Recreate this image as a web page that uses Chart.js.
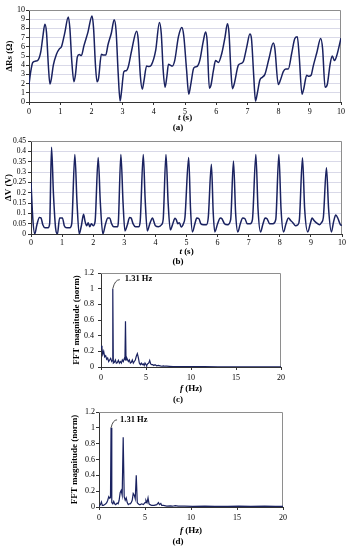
<!DOCTYPE html>
<html>
<head>
<meta charset="utf-8">
<script src="https://cdn.jsdelivr.net/npm/chart.js@4.4.1/dist/chart.umd.min.js"></script>
<style>
  body { margin: 0; background: #fff; }
  .box { position: absolute; left: 0; width: 355px; }
</style>
</head>
<body>
<div class="box" style="top:0;height:135px"><canvas id="chartA"></canvas></div>
<div class="box" style="top:130px;height:140px"><canvas id="chartB"></canvas></div>
<div class="box" style="top:262px;height:150px"><canvas id="chartC"></canvas></div>
<div class="box" style="top:400px;height:150px"><canvas id="chartD"></canvas></div>
<script>
// (a) resistance change vs time
const timeA = [
  0, 0.05, 0.12, 0.22, 0.3, 0.38, 0.44, 0.51, 0.56, 0.62,
  0.67, 0.72, 0.78, 0.88, 0.98, 1.04, 1.14, 1.26, 1.31, 1.37,
  1.44, 1.49, 1.55, 1.61, 1.68, 1.76, 1.89, 2.02, 2.07, 2.13,
  2.18, 2.23, 2.32, 2.38, 2.46, 2.53, 2.64, 2.73, 2.79, 2.86,
  2.92, 2.97, 3.04, 3.12, 3.18, 3.29, 3.45, 3.50, 3.57,
  3.63, 3.68, 3.77, 3.85, 3.92, 4.06, 4.18, 4.24, 4.30,
  4.36, 4.42, 4.47, 4.53, 4.59, 4.67, 4.79, 4.90, 4.96, 5.05,
  5.12, 5.18, 5.27, 5.32, 5.40, 5.48, 5.58, 5.66, 5.71,
  5.78, 5.83, 5.91, 5.98, 6.07, 6.18, 6.28, 6.36, 6.41, 6.47,
  6.52, 6.58, 6.71, 6.80, 6.87, 6.98, 7.08, 7.13, 7.20,
  7.26, 7.32, 7.40, 7.48, 7.56, 7.69, 7.83, 7.88,
  7.99, 8.05, 8.15, 8.23, 8.31, 8.42, 8.52, 8.60, 8.66,
  8.75, 8.81, 8.90, 8.97, 9.04, 9.11, 9.22, 9.35, 9.41,
  9.49, 9.56, 9.65, 9.72, 9.79, 9.86, 10.0
]
const resA = [
  1.9, 3.2, 4.3, 4.45, 4.6, 5.5, 7.0, 8.45, 7.6, 4.0,
  1.95, 2.6, 4.0, 5.2, 5.8, 6.0, 7.4, 9.25, 8.0, 4.5,
  2.2, 3.0, 4.9, 5.15, 5.05, 6.1, 7.6, 9.35, 8.0, 4.0,
  2.2, 2.6, 5.2, 5.1, 5.1, 6.2, 7.5, 8.95, 7.8, 3.0,
  0.1, 1.3, 3.3, 3.4, 3.8, 5.6, 7.7, 6.8, 2.8,
  1.4, 2.2, 3.9, 3.85, 4.0, 5.6, 8.65, 7.4, 3.5,
  1.6, 2.8, 4.1, 4.0, 3.9, 4.5, 7.1, 8.1, 7.2, 3.5,
  0.85, 1.8, 3.6, 3.8, 3.9, 4.6, 6.5, 7.6, 6.6,
  1.5, 1.8, 3.4, 4.5, 4.3, 5.3, 7.0, 8.5, 7.5, 3.5,
  1.45, 2.0, 4.0, 4.2, 4.4, 6.0, 7.4, 6.9, 3.0,
  0.1, 1.0, 2.4, 2.7, 3.0, 4.7, 6.4, 5.8,
  1.9, 2.3, 3.3, 3.6, 3.6, 5.3, 6.9, 7.1, 5.0,
  0.85, 1.5, 2.9, 2.8, 2.9, 3.9, 5.3, 6.9, 5.8,
  1.6, 1.9, 4.1, 5.0, 4.5, 5.0, 6.95
]

// (b) voltage change vs time
const timeB = [
  0, 0.06, 0.12, 0.19, 0.27, 0.32, 0.38, 0.45, 0.55, 0.60,
  0.66, 0.72, 0.79, 0.85, 0.92, 1.01, 1.07, 1.15, 1.25, 1.31,
  1.41, 1.48, 1.55, 1.62, 1.69, 1.74, 1.79, 1.84, 1.89, 1.94, 2.0, 2.06,
  2.16, 2.23, 2.31, 2.39, 2.47, 2.53, 2.59, 2.66, 2.78, 2.81,
  2.89, 2.96, 3.02, 3.10, 3.17, 3.22, 3.28, 3.36, 3.46, 3.51,
  3.61, 3.67, 3.74, 3.82, 3.91, 3.95, 4.0, 4.1, 4.2, 4.25,
  4.34, 4.41, 4.48, 4.56, 4.63, 4.67, 4.72, 4.77, 4.83, 4.9, 4.95,
  5.07, 5.13, 5.19, 5.27, 5.33, 5.40, 5.46, 5.55, 5.64, 5.70,
  5.80, 5.86, 5.91, 6.0, 6.09, 6.14, 6.22, 6.32, 6.42,
  6.51, 6.58, 6.65, 6.73, 6.81, 6.88, 6.95, 7.05, 7.12,
  7.23, 7.30, 7.38, 7.46, 7.53, 7.59, 7.67, 7.78, 7.87,
  7.97, 8.04, 8.12, 8.20, 8.28, 8.35, 8.42, 8.50, 8.58, 8.63,
  8.73, 8.80, 8.90, 8.98, 9.04, 9.10, 9.17, 9.28, 9.34, 9.40,
  9.50, 9.57, 9.66, 9.73, 9.80, 9.87, 9.95, 10.0
]
const voltB = [
  0.25, 0.07, 0.0, 0.045, 0.08, 0.078, 0.045, 0.03, 0.03, 0.05,
  0.42, 0.2, 0.03, 0.0, 0.078, 0.078, 0.04, 0.03, 0.03, 0.05,
  0.385, 0.15, 0.0, 0.04, 0.095, 0.06, 0.04, 0.055, 0.035, 0.05, 0.04, 0.06,
  0.37, 0.15, 0.0, 0.045, 0.078, 0.078, 0.05, 0.035, 0.035, 0.06,
  0.385, 0.15, 0.015, 0.045, 0.08, 0.077, 0.05, 0.035, 0.035, 0.06,
  0.385, 0.17, 0.015, 0.05, 0.078, 0.06, 0.04, 0.035, 0.045, 0.07,
  0.385, 0.15, 0.02, 0.05, 0.076, 0.07, 0.05, 0.055, 0.034, 0.05, 0.08,
  0.37, 0.12, 0.01, 0.05, 0.077, 0.074, 0.05, 0.045, 0.045, 0.08,
  0.337, 0.1, 0.01, 0.05, 0.077, 0.074, 0.05, 0.045, 0.07,
  0.353, 0.1, 0.01, 0.05, 0.077, 0.074, 0.05, 0.05, 0.07,
  0.385, 0.12, 0.01, 0.05, 0.077, 0.074, 0.05, 0.05, 0.07,
  0.385, 0.12, 0.01, 0.05, 0.077, 0.065, 0.055, 0.04, 0.045, 0.07,
  0.369, 0.12, 0.01, 0.05, 0.077, 0.065, 0.055, 0.045, 0.055, 0.08,
  0.321, 0.12, 0.01, 0.06, 0.092, 0.075, 0.045, 0.042
]

// (c) FFT of (a)
const freqC = [
  0, 0.11, 0.19, 0.3, 0.41, 0.52, 0.63, 0.74, 0.85, 0.96,
  1.07, 1.19, 1.25, 1.31, 1.37, 1.48, 1.6, 1.7, 1.8, 1.93,
  2.04, 2.15, 2.26, 2.37, 2.48, 2.6, 2.66, 2.72, 2.78, 2.85,
  2.93, 3.04, 3.15, 3.26, 3.37, 3.48, 3.59, 3.7, 3.81, 3.93,
  4.04, 4.15, 4.26, 4.37, 4.48, 4.59, 4.7, 4.8, 4.89, 5.0,
  5.07, 5.18, 5.3, 5.41, 5.52, 5.63, 5.74, 5.87, 6.0, 6.19,
  6.37, 6.56, 6.75, 6.93, 7.12, 7.3, 7.6, 8.0, 8.5, 9.2,
  10.3, 11.5, 13, 15, 17, 20
]
const magC = [
  0.27, 0.24, 0.16, 0.2, 0.13, 0.145, 0.1, 0.115, 0.07, 0.09,
  0.11, 0.07, 0.08, 1.0, 0.05, 0.06, 0.09, 0.05, 0.055, 0.085,
  0.05, 0.07, 0.05, 0.09, 0.07, 0.11, 0.1, 0.585, 0.09, 0.12,
  0.1, 0.07, 0.09, 0.05, 0.06, 0.09, 0.05, 0.07, 0.09, 0.14,
  0.17, 0.12, 0.05, 0.03, 0.05, 0.03, 0.04, 0.02, 0.05, 0.03,
  0.02, 0.04, 0.05, 0.085, 0.04, 0.03, 0.03, 0.02, 0.03, 0.015,
  0.02, 0.015, 0.01, 0.015, 0.01, 0.01, 0.008, 0.006, 0.005, 0.005,
  0.004, 0.004, 0.003, 0.003, 0.002, 0.002
]

// (d) FFT of (b)
const freqD = [
  0, 0.15, 0.26, 0.36, 0.47, 0.62, 0.73, 0.84, 0.95, 1.06,
  1.17, 1.25, 1.31, 1.39, 1.5, 1.6, 1.7, 1.82, 1.97, 2.08,
  2.19, 2.3, 2.41, 2.52, 2.63, 2.74, 2.85, 2.96, 3.07, 3.18,
  3.28, 3.39, 3.5, 3.61, 3.72, 3.83, 3.94, 4.05, 4.16, 4.27,
  4.38, 4.49, 4.64, 4.82, 5.0, 5.1, 5.22, 5.33, 5.44, 5.55,
  5.73, 5.99, 6.28, 6.46, 6.57, 6.72, 6.82, 7.0, 7.37, 7.74,
  8.0, 8.28, 8.6, 9.3, 10.2, 11.5, 12.6, 14.0, 15.2, 16.5,
  18.0, 19.2, 20
]
const magD = [
  0.01, 0.03, 0.064, 0.02, 0.02, 0.03, 0.04, 0.055, 0.085, 0.13,
  0.11, 0.12, 1.0, 0.055, 0.04, 0.07, 0.04, 0.03, 0.05, 0.04,
  0.085, 0.18, 0.21, 0.15, 0.88, 0.13, 0.085, 0.115, 0.055, 0.03,
  0.04, 0.04, 0.055, 0.085, 0.17, 0.15, 0.105, 0.4, 0.055, 0.04,
  0.03, 0.03, 0.04, 0.03, 0.055, 0.085, 0.055, 0.115, 0.04, 0.03,
  0.02, 0.02, 0.03, 0.055, 0.03, 0.045, 0.02, 0.02, 0.012, 0.015,
  0.01, 0.018, 0.01, 0.01, 0.009, 0.012, 0.008, 0.009, 0.011, 0.008,
  0.01, 0.008, 0.008
]

const serif = '"Liberation Serif", "DejaVu Serif", serif'
const lineColor = '#1a2260'

function pts(xs, ys) {
  return xs.map((x, i) => ({x: x, y: ys[i]}))
}

function tidy(v) {
  return String(Math.round(v * 1000) / 1000)
}

// grey top/right edge of the plot area
const frame = {
  id: 'frame',
  beforeDatasetsDraw(chart) {
    const {ctx, chartArea: a} = chart
    ctx.save()
    ctx.strokeStyle = '#8e8e8e'
    ctx.lineWidth = 1
    ctx.beginPath()
    ctx.moveTo(a.left, a.top + 0.5)
    ctx.lineTo(a.right - 0.5, a.top + 0.5)
    ctx.lineTo(a.right - 0.5, a.bottom)
    ctx.stroke()
    ctx.restore()
  }
}

// x axis title (italic symbol + unit) and the panel letter
const captions = {
  id: 'captions',
  afterDraw(chart, args, o) {
    const {ctx, chartArea: a} = chart
    const it = 'italic bold 9px ' + serif
    const bd = 'bold 9px ' + serif
    ctx.save()
    ctx.fillStyle = '#000'
    ctx.textBaseline = 'middle'
    ctx.textAlign = 'left'
    ctx.font = it
    const w1 = ctx.measureText(o.sym).width
    ctx.font = bd
    const w2 = ctx.measureText(o.unit).width
    const x0 = (a.left + a.right) / 2 - (w1 + w2) / 2
    ctx.font = it
    ctx.fillText(o.sym, x0, a.bottom + o.titleDy)
    ctx.font = bd
    ctx.fillText(o.unit, x0 + w1, a.bottom + o.titleDy)
    ctx.textAlign = 'center'
    ctx.fillText(o.letter, 178, a.bottom + o.letterDy)
    ctx.restore()
  }
}

// "1.31 Hz" with a leader line from the peak
const peakLabel = {
  id: 'peakLabel',
  afterDatasetsDraw(chart, args, o) {
    if (!o.text) return
    const {ctx, scales} = chart
    const px = scales.x.getPixelForValue(o.f)
    const py = scales.y.getPixelForValue(o.mag)
    ctx.save()
    ctx.strokeStyle = '#222'
    ctx.lineWidth = 0.8
    ctx.beginPath()
    ctx.moveTo(px, py)
    ctx.quadraticCurveTo(px + o.lx * 0.3, py + o.ly, px + o.lx, py + o.ly)
    ctx.stroke()
    ctx.fillStyle = '#000'
    ctx.font = 'bold 8.5px ' + serif
    ctx.textAlign = 'left'
    ctx.textBaseline = 'middle'
    ctx.fillText(o.text, px + o.tx, py + o.ty)
    ctx.restore()
  }
}

function makeChart(id, p) {
  return new Chart(document.getElementById(id), {
    type: 'line',
    data: {
      datasets: [{
        data: pts(p.xs, p.ys),
        borderColor: lineColor,
        borderWidth: p.lw,
        pointRadius: 0,
        tension: p.smooth ? 0.4 : 0,
        cubicInterpolationMode: p.smooth ? 'monotone' : 'default'
      }]
    },
    options: {
      responsive: true,
      maintainAspectRatio: false,
      animation: false,
      layout: {padding: p.pad},
      plugins: {
        legend: {display: false},
        tooltip: {enabled: false},
        captions: p.cap,
        peakLabel: p.peak || {}
      },
      scales: {
        x: {
          type: 'linear',
          min: 0, max: p.xmax,
          afterFit: s => { s.height = p.xh },
          ticks: {stepSize: p.xstep, autoSkip: false, color: '#000', padding: p.xpad, maxRotation: 0,
                  font: {family: serif, size: 8}},
          grid: {drawOnChartArea: false, tickLength: 3, tickColor: '#333'},
          border: {color: '#333', width: 1}
        },
        y: {
          min: 0, max: p.ymax,
          afterFit: s => { s.width = p.yw },
          ticks: {stepSize: p.ystep, autoSkip: false, color: '#000', padding: p.ypad, callback: tidy,
                  font: {family: serif, size: p.yfs || 8}},
          grid: {drawOnChartArea: p.grid, color: '#d9d9e8', lineWidth: 1,
                 tickLength: 3, tickColor: '#333'},
          border: {color: '#333', width: 1},
          title: {display: true, text: p.ytitle, color: '#000',
                  font: {family: serif, size: 9, weight: 'bold'},
                  padding: {top: p.ytpad, bottom: 0}}
        }
      }
    },
    plugins: [frame, captions, peakLabel]
  })
}

makeChart('chartA', {
  xs: timeA, ys: resA, lw: 1.5, smooth: true, grid: true,
  pad: {top: 10, right: 14, left: 0, bottom: 0},
  xmax: 10, xstep: 1, xh: 33, xpad: 2,
  ymax: 10, ystep: 1, yw: 29, ypad: 1, ytpad: 4.6,
  ytitle: 'ΔRs (Ω)',
  cap: {sym: 't', unit: ' (s)', titleDy: 16, letter: '(a)', letterDy: 26}
})

makeChart('chartB', {
  xs: timeB, ys: voltB, lw: 1.5, smooth: true, grid: true,
  pad: {top: 11, right: 13, left: 0, bottom: 0},
  xmax: 10, xstep: 1, xh: 36, xpad: 1,
  ymax: 0.45, ystep: 0.05, yw: 31, ypad: 2, ytpad: 2.8, yfs: 7.5,
  ytitle: 'ΔV (V)',
  cap: {sym: 't', unit: ' (s)', titleDy: 18, letter: '(b)', letterDy: 28}
})

makeChart('chartC', {
  xs: freqC, ys: magC, lw: 1.2, smooth: false, grid: false,
  pad: {top: 11, right: 74, left: 60, bottom: 0},
  xmax: 20, xstep: 5, xh: 45, xpad: 3,
  ymax: 1.2, ystep: 0.2, yw: 41, ypad: 4, ytpad: 11.6,
  ytitle: 'FFT magnitude (norm)',
  cap: {sym: 'f', unit: ' (Hz)', titleDy: 22, letter: '(c)', letterDy: 33},
  peak: {text: '1.31 Hz', f: 1.31, mag: 1.0, lx: 7, ly: -9, tx: 12, ty: -10}
})

makeChart('chartD', {
  xs: freqD, ys: magD, lw: 1.2, smooth: false, grid: false,
  pad: {top: 12, right: 72, left: 60, bottom: 0},
  xmax: 20, xstep: 5, xh: 43, xpad: 3,
  ymax: 1.2, ystep: 0.2, yw: 39, ypad: 1, ytpad: 9.6,
  ytitle: 'FFT magnitude (norm)',
  cap: {sym: 'f', unit: ' (Hz)', titleDy: 24, letter: '(d)', letterDy: 35},
  peak: {text: '1.31 Hz', f: 1.31, mag: 1.0, lx: 6, ly: -8, tx: 9, ty: -8}
})
</script>
</body>
</html>
